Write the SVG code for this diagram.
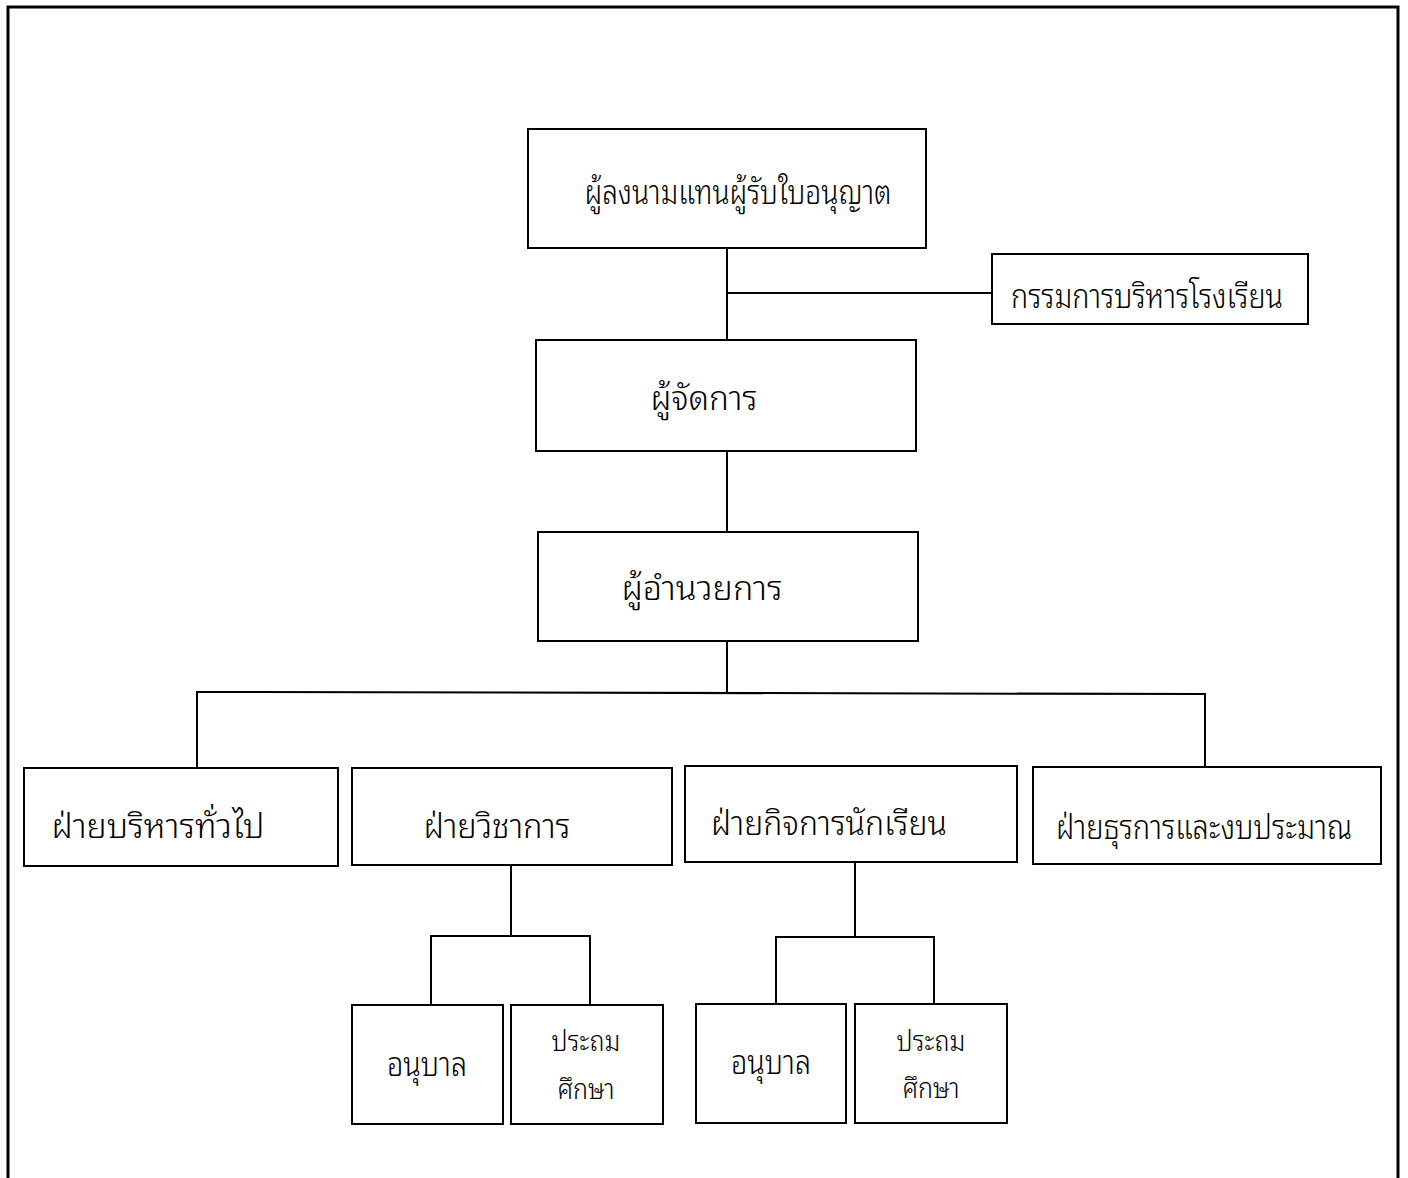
<svg xmlns="http://www.w3.org/2000/svg" width="1408" height="1178" viewBox="0 0 1408 1178">
<style>
.box{fill:#fff;stroke:#000;stroke-width:2}
.ln{fill:none;stroke:#000;stroke-width:2}
.t{font-family:"Noto Sans Thai Looped","Noto Serif Thai","Noto Sans Thai","Noto Sans",sans-serif;font-size:33px;font-weight:300;fill:#000;text-anchor:middle;dominant-baseline:central}
.s{font-size:29px}
</style>
<rect width="1408" height="1178" fill="#fff"/>
<path d="M8,1178 V7 H1398 V1178" fill="none" stroke="#000" stroke-width="3"/>
<g id="connectors">
<path class="ln" d="M727,248 V340"/>
<path class="ln" d="M727,293 H992"/>
<path class="ln" d="M727,451 V532"/>
<path class="ln" d="M727,641 V693"/>
<path class="ln" d="M197,768 V692 L1205,694 V767"/>
<path class="ln" d="M511,866 V936"/>
<path class="ln" d="M431,1005 V936 H590 V1005"/>
<path class="ln" d="M855,863 V937"/>
<path class="ln" d="M776,1004 V937 H934 V1004"/>
</g>
<g id="n-licensee"><rect class="box" x="528" y="129" width="398" height="119"/><text class="t" x="738" y="189" textLength="307" lengthAdjust="spacingAndGlyphs">ผู้ลงนามแทนผู้รับใบอนุญาต</text></g>
<g id="n-board"><rect class="box" x="992" y="254" width="316" height="70"/><text class="t" x="1147" y="293" textLength="272" lengthAdjust="spacingAndGlyphs">กรรมการบริหารโรงเรียน</text></g>
<g id="n-manager"><rect class="box" x="536" y="340" width="380" height="111"/><text class="t" x="704" y="395" textLength="107" lengthAdjust="spacingAndGlyphs">ผู้จัดการ</text></g>
<g id="n-director"><rect class="box" x="538" y="532" width="380" height="109"/><text class="t" x="702" y="585" textLength="161" lengthAdjust="spacingAndGlyphs">ผู้อำนวยการ</text></g>
<g id="n-general"><rect class="box" x="24" y="768" width="314" height="98"/><text class="t" x="158" y="823" textLength="213" lengthAdjust="spacingAndGlyphs">ฝ่ายบริหารทั่วไป</text></g>
<g id="n-academic"><rect class="box" x="352" y="768" width="320" height="97"/><text class="t" x="497" y="823" textLength="147" lengthAdjust="spacingAndGlyphs">ฝ่ายวิชาการ</text></g>
<g id="n-student"><rect class="box" x="685" y="766" width="332" height="96"/><text class="t" x="829" y="820" textLength="236" lengthAdjust="spacingAndGlyphs">ฝ่ายกิจการนักเรียน</text></g>
<g id="n-admin"><rect class="box" x="1033" y="767" width="348" height="97"/><text class="t" x="1204" y="824" textLength="296" lengthAdjust="spacingAndGlyphs">ฝ่ายธุรการและงบประมาณ</text></g>
<g id="n-acad-kinder"><rect class="box" x="352" y="1005" width="151" height="119"/><text class="t" x="427" y="1061" textLength="80" lengthAdjust="spacingAndGlyphs">อนุบาล</text></g>
<g id="n-acad-primary"><rect class="box" x="511" y="1005" width="152" height="119"/><text class="t s" x="586" y="1038" textLength="69" lengthAdjust="spacingAndGlyphs">ประถม</text><text class="t s" x="586" y="1086" textLength="57" lengthAdjust="spacingAndGlyphs">ศึกษา</text></g>
<g id="n-stu-kinder"><rect class="box" x="696" y="1004" width="150" height="119"/><text class="t" x="771" y="1059" textLength="80" lengthAdjust="spacingAndGlyphs">อนุบาล</text></g>
<g id="n-stu-primary"><rect class="box" x="855" y="1004" width="152" height="119"/><text class="t s" x="931" y="1038" textLength="69" lengthAdjust="spacingAndGlyphs">ประถม</text><text class="t s" x="931" y="1085" textLength="57" lengthAdjust="spacingAndGlyphs">ศึกษา</text></g>
</svg>
